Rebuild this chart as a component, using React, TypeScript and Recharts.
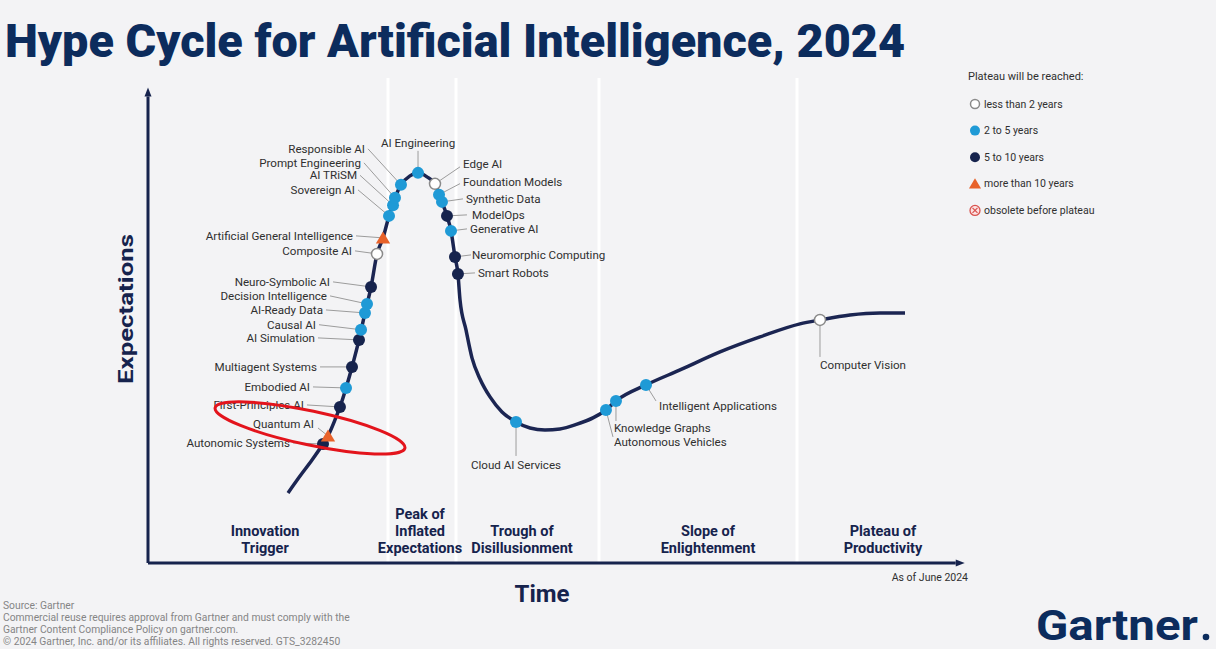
import React from 'react';
import { ComposedChart, Line, Scatter, XAxis, YAxis, ReferenceLine, ReferenceDot } from 'recharts';

const W = 1216;
const H = 649;

// ---------- Hype curve (Time 0–100 vs Expectations 0–100) ----------
const curveTime = [17.07, 18.54, 20.0, 21.34, 21.95, 22.8, 23.41, 24.15, 24.88, 25.73, 26.46, 27.2, 27.93, 28.66, 29.39, 30.12, 30.85, 31.95, 32.93, 34.02, 35.0, 35.85, 36.46, 36.95, 37.44, 37.8, 38.05, 38.78, 39.51, 40.49, 41.71, 43.17, 44.88, 46.59, 48.41, 50.24, 52.07, 55.85, 57.07, 60.73, 64.88, 69.76, 74.63, 79.51, 81.95, 85.61, 89.27, 92.32];
const curveExpectation = [14.8, 18.39, 21.78, 25.16, 26.85, 30.23, 32.98, 37.0, 41.44, 47.15, 52.85, 58.35, 65.33, 68.71, 73.36, 77.17, 79.92, 81.82, 82.45, 81.61, 80.13, 76.32, 73.36, 70.19, 64.69, 61.1, 55.6, 49.26, 43.34, 38.9, 35.1, 31.92, 29.81, 28.54, 28.12, 28.33, 29.18, 32.35, 34.25, 37.63, 40.8, 44.61, 47.78, 50.53, 51.37, 52.43, 52.85, 52.85];

// ---------- Innovations ----------
const techNames = [
  'Autonomic Systems', 'Quantum AI', 'First-Principles AI', 'Embodied AI', 'Multiagent Systems',
  'AI Simulation', 'Causal AI', 'AI-Ready Data', 'Decision Intelligence', 'Neuro-Symbolic AI',
  'Composite AI', 'Artificial General Intelligence', 'Sovereign AI', 'AI TRiSM', 'Prompt Engineering',
  'Responsible AI', 'AI Engineering', 'Edge AI', 'Foundation Models', 'Synthetic Data',
  'ModelOps', 'Generative AI', 'Neuromorphic Computing', 'Smart Robots', 'Cloud AI Services',
  'Autonomous Vehicles', 'Knowledge Graphs', 'Intelligent Applications', 'Computer Vision',
];
const techTime = [21.34, 21.95, 23.41, 24.15, 24.88, 25.73, 25.98, 26.46, 26.71, 27.2, 27.93, 28.66, 29.39, 29.88, 30.12, 30.85, 32.93, 35.0, 35.49, 35.85, 36.46, 36.95, 37.44, 37.8, 44.88, 55.85, 57.07, 60.73, 81.95];
const techExpectation = [25.16, 26.85, 32.98, 37.0, 41.44, 47.15, 49.3, 52.85, 54.76, 58.35, 65.33, 68.71, 73.36, 75.6, 77.17, 79.92, 82.45, 80.13, 77.85, 76.32, 73.36, 70.19, 64.69, 61.1, 29.81, 32.35, 34.25, 37.63, 51.37];
const techPlateau = ['5-10', '10+', '5-10', '2-5', '5-10', '5-10', '2-5', '2-5', '2-5', '5-10', '<2', '10+', '2-5', '2-5', '2-5', '2-5', '2-5', '<2', '2-5', '2-5', '5-10', '2-5', '5-10', '5-10', '2-5', '2-5', '2-5', '2-5', '<2'];

// ---------- Phases ----------
const phaseLabels = [
  ['Innovation', 'Trigger'],
  ['Peak of', 'Inflated', 'Expectations'],
  ['Trough of', 'Disillusionment'],
  ['Slope of', 'Enlightenment'],
  ['Plateau of', 'Productivity'],
];
const phaseCenter = [14.27, 33.17, 45.61, 68.29, 89.63];
const phaseBoundary = [29.27, 37.56, 55.0, 79.15];

// ---------- Legend / texts ----------
const legendTitle = 'Plateau will be reached:';
const legendKinds = ['<2', '2-5', '5-10', '10+', 'obsolete'];
const legendLabels = ['less than 2 years', '2 to 5 years', '5 to 10 years', 'more than 10 years', 'obsolete before plateau'];
const titleText = 'Hype Cycle for Artificial Intelligence, 2024';
const footerLines = [
  'Source: Gartner',
  'Commercial reuse requires approval from Gartner and must comply with the',
  'Gartner Content Compliance Policy on gartner.com.',
  '© 2024 Gartner, Inc. and/or its affiliates. All rights reserved. GTS_3282450',
];
const highlightCenter = { x: 19.76, y: 28.54 };

// ---------- Styling ----------
const BG = '#f3f3f5';
const NAVY = '#16234d';
const CURVE = '#1b2552';
const LIGHT = '#1f9ad6';
const ORANGE = '#e8622a';
const LEADER = '#9c9c9c';
const TEXT = '#2f2f2f';
const TITLE = '#0c2c5d';
const FONT = 'Roboto, "Noto Sans", sans-serif';

type Anchor = 'start' | 'end' | 'middle';
// label offsets in pixels relative to the dot; (lx,ly) = leader end
const LABEL_LAYOUT: Record<string, { dx: number; dy: number; anchor: Anchor; lx?: number; ly?: number }> = {
  'Responsible AI': { dx: -36, dy: -36, anchor: 'end' },
  'Prompt Engineering': { dx: -34, dy: -35, anchor: 'end' },
  'AI TRiSM': { dx: -36, dy: -30, anchor: 'end' },
  'Sovereign AI': { dx: -34, dy: -26, anchor: 'end' },
  'Artificial General Intelligence': { dx: -30, dy: -2, anchor: 'end' },
  'Composite AI': { dx: -25, dy: -3, anchor: 'end' },
  'Neuro-Symbolic AI': { dx: -41, dy: -5, anchor: 'end' },
  'Decision Intelligence': { dx: -40, dy: -8, anchor: 'end' },
  'AI-Ready Data': { dx: -42, dy: -3, anchor: 'end' },
  'Causal AI': { dx: -45, dy: -5, anchor: 'end' },
  'AI Simulation': { dx: -44, dy: -2, anchor: 'end' },
  'Multiagent Systems': { dx: -35, dy: 0, anchor: 'end' },
  'Embodied AI': { dx: -36, dy: -1, anchor: 'end' },
  'First-Principles AI': { dx: -36, dy: -2, anchor: 'end' },
  'Quantum AI': { dx: -14, dy: -12, anchor: 'end', lx: -10, ly: -8 },
  'Autonomic Systems': { dx: -33, dy: -1, anchor: 'end' },
  'AI Engineering': { dx: 0, dy: -30, anchor: 'middle', lx: 0, ly: -22 },
  'Edge AI': { dx: 28, dy: -20, anchor: 'start', lx: 25, ly: -17 },
  'Foundation Models': { dx: 24, dy: -13, anchor: 'start', lx: 21, ly: -11 },
  'Synthetic Data': { dx: 24, dy: -3, anchor: 'start' },
  'ModelOps': { dx: 25, dy: -1, anchor: 'start', lx: 20, ly: -1 },
  'Generative AI': { dx: 19, dy: -2, anchor: 'start' },
  'Neuromorphic Computing': { dx: 17, dy: -2, anchor: 'start', lx: 16, ly: -2 },
  'Smart Robots': { dx: 20, dy: -1, anchor: 'start' },
  'Cloud AI Services': { dx: 0, dy: 43, anchor: 'middle', lx: 0, ly: 34 },
  'Autonomous Vehicles': { dx: 8, dy: 32, anchor: 'start', lx: 7, ly: 27 },
  'Knowledge Graphs': { dx: -2, dy: 27, anchor: 'start', lx: 0, ly: 20 },
  'Intelligent Applications': { dx: 13, dy: 21, anchor: 'start', lx: 10, ly: 16 },
  'Computer Vision': { dx: 0, dy: 45, anchor: 'start', lx: 0, ly: 37 },
};

const curveData = curveTime.map((x, i) => ({ x, y: curveExpectation[i] }));
const techData = techNames.map((name, i) => ({ name, x: techTime[i], y: techExpectation[i], plateau: techPlateau[i] }));

function Marker({ kind, cx, cy, r = 6 }: { kind: string; cx: number; cy: number; r?: number }) {
  if (kind === '<2') return <circle cx={cx} cy={cy} r={r - 0.5} fill="#ffffff" stroke="#8a8a8a" strokeWidth={1.5} />;
  if (kind === '2-5') return <circle cx={cx} cy={cy} r={r} fill={LIGHT} />;
  if (kind === '5-10') return <circle cx={cx} cy={cy} r={r} fill={NAVY} />;
  if (kind === '10+') {
    const s = r + 0.5;
    return <path d={`M${cx},${cy - s} L${cx + s * 1.1},${cy + s * 0.85} L${cx - s * 1.1},${cy + s * 0.85} Z`} fill={ORANGE} />;
  }
  const d = r * 0.5;
  return (
    <g>
      <circle cx={cx} cy={cy} r={r} fill="#fbe3e3" stroke="#d9534f" strokeWidth={1.3} />
      <line x1={cx - d} y1={cy - d} x2={cx + d} y2={cy + d} stroke="#d9534f" strokeWidth={1.3} />
      <line x1={cx - d} y1={cy + d} x2={cx + d} y2={cy - d} stroke="#d9534f" strokeWidth={1.3} />
    </g>
  );
}

const LabelShape = (props: any) => {
  const { cx, cy } = props;
  const p = props.payload ?? props;
  const lay = LABEL_LAYOUT[p.name];
  if (!lay || cx == null || cy == null) return <g />;
  const tx = cx + lay.dx;
  const ty = cy + lay.dy;
  const lx = cx + (lay.lx ?? (lay.anchor === 'end' ? lay.dx + 3 : lay.anchor === 'start' ? lay.dx - 3 : lay.dx));
  const ly = cy + (lay.ly ?? lay.dy);
  return (
    <g>
      <line x1={cx} y1={cy} x2={lx} y2={ly} stroke={LEADER} strokeWidth={1} />
      <text x={tx} y={ty} textAnchor={lay.anchor} dominantBaseline="central" fontSize={11.6} fill={TEXT} fontFamily={FONT}>
        {p.name}
      </text>
    </g>
  );
};

const DotShape = (props: any) => {
  const { cx, cy } = props;
  const p = props.payload ?? props;
  if (cx == null || cy == null) return <g />;
  return <Marker kind={p.plateau} cx={cx} cy={cy} />;
};

const AxisArrow = (props: any) => {
  const { x1, y1, x2, y2 } = props;
  const ang = Math.atan2(y2 - y1, x2 - x1);
  const L = 9;
  const w = 3.5;
  const bx = x2 - L * Math.cos(ang);
  const by = y2 - L * Math.sin(ang);
  const nx = -Math.sin(ang) * w;
  const ny = Math.cos(ang) * w;
  return (
    <g>
      <line x1={x1} y1={y1} x2={bx} y2={by} stroke={NAVY} strokeWidth={3} />
      <path d={`M${x2},${y2} L${bx + nx},${by + ny} L${bx - nx},${by - ny} Z`} fill={NAVY} />
    </g>
  );
};

const PhaseLabel = (props: any) => {
  const { viewBox, lines } = props;
  if (!viewBox) return null;
  const x = viewBox.x + (viewBox.width || 0) / 2;
  const bottom = viewBox.y + viewBox.height;
  return (
    <text textAnchor="middle" fontSize={14.5} fontWeight={700} fill={NAVY} fontFamily={FONT}>
      {lines.map((l: string, i: number) => (
        <tspan key={i} x={x} y={bottom - 10 - (lines.length - 1 - i) * 17}>
          {l}
        </tspan>
      ))}
    </text>
  );
};

const Highlight = (props: any) => {
  const { cx, cy } = props;
  if (cx == null) return <g />;
  return (
    <ellipse cx={cx} cy={cy} rx={97} ry={17} fill="none" stroke="#e3141c" strokeWidth={3}
      transform={`rotate(12 ${cx} ${cy})`} />
  );
};

export default function App() {
  return (
    <div style={{ position: 'absolute', left: 0, top: 0, width: W, height: H, background: BG, overflow: 'hidden', fontFamily: FONT }}>
      <div style={{ position: 'absolute', left: 0, top: 0 }}>
        <ComposedChart width={W} height={H} margin={{ top: 78, right: 248, bottom: 86, left: 148 }}>
          <XAxis type="number" dataKey="x" domain={[0, 100]} allowDataOverflow hide />
          <YAxis type="number" dataKey="y" domain={[0, 102.5]} allowDataOverflow hide />
          {phaseBoundary.map((b, i) => (
            <ReferenceLine key={`pb${i}`} x={b} stroke="#ffffff" strokeWidth={3} zIndex={-10} />
          ))}
          {phaseCenter.map((c, i) => (
            <ReferenceLine key={`pc${i}`} x={c} stroke="none" strokeOpacity={0} label={<PhaseLabel lines={phaseLabels[i]} />} />
          ))}
          <ReferenceLine segment={[{ x: 0, y: 0 }, { x: 0, y: 100.5 }]} shape={AxisArrow} />
          <ReferenceLine segment={[{ x: 0, y: 0 }, { x: 99.6, y: 0 }]} shape={AxisArrow} />
          <Line data={curveData} dataKey="y" type="monotone" stroke={CURVE} strokeWidth={3.5}
            dot={false} activeDot={false} isAnimationActive={false} />
          <Scatter data={techData} dataKey="y" shape={LabelShape} isAnimationActive={false} />
          <Scatter data={techData} dataKey="y" shape={DotShape} isAnimationActive={false} />
          <ReferenceDot x={highlightCenter.x} y={highlightCenter.y} r={1} shape={Highlight} />
        </ComposedChart>
      </div>
      <svg width={W} height={H} style={{ position: 'absolute', left: 0, top: 0, pointerEvents: 'none' }} fontFamily={FONT}>
        <text x={5} y={57} fontSize={47} fontWeight={900} fill={TITLE} textLength={900} lengthAdjust="spacingAndGlyphs">
          {titleText}
        </text>
        <text x={133} y={309} fontSize={21} fontWeight={700} fill={NAVY} textAnchor="middle" transform="rotate(-90 133 309)"
          textLength={150} lengthAdjust="spacingAndGlyphs">
          Expectations
        </text>
        <text x={542} y={602} fontSize={23} fontWeight={700} fill={NAVY} textAnchor="middle" textLength={55} lengthAdjust="spacingAndGlyphs">Time</text>
        <text x={968} y={581} fontSize={10.5} fill={TEXT} textAnchor="end">As of June 2024</text>
        <text x={968} y={80} fontSize={11} fill={TEXT}>{legendTitle}</text>
        {legendKinds.map((k, i) => (
          <g key={k}>
            <Marker kind={k} cx={975} cy={104 + i * 26.6} r={5} />
            <text x={984} y={104 + i * 26.6} fontSize={10.5} fill={TEXT} dominantBaseline="central">{legendLabels[i]}</text>
          </g>
        ))}
        {footerLines.map((l, i) => (
          <text key={i} x={3} y={609 + i * 12} fontSize={10.3} fill="#858585">{l}</text>
        ))}
        <text x={1036} y={640} fontSize={43} fontWeight={700} fill={TITLE} textLength={162} lengthAdjust="spacingAndGlyphs">Gartner</text>
        <circle cx={1206} cy={637} r={3.3} fill={TITLE} />
      </svg>
    </div>
  );
}
